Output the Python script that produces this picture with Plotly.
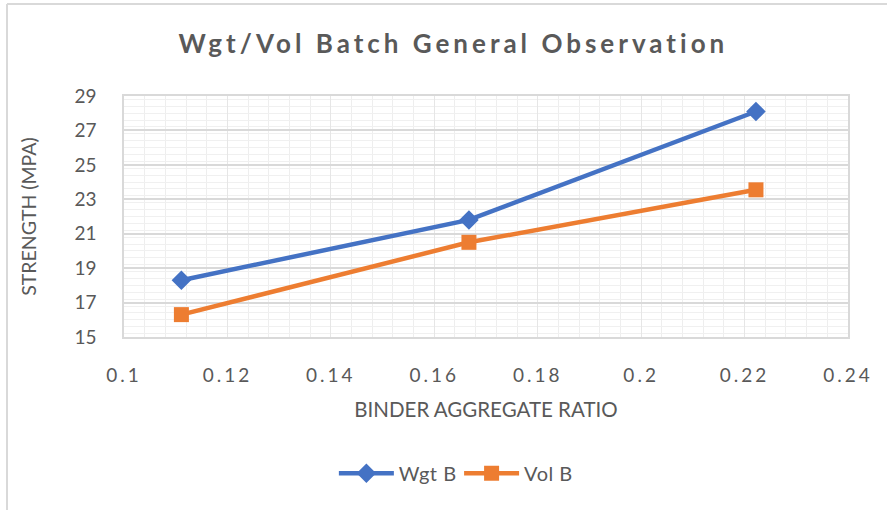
import plotly.graph_objects as go

ratio = [0.1111, 0.1667, 0.2222]
wgt_b = [18.3, 21.8, 28.1]
vol_b = [16.3, 20.5, 23.55]
series_names = ["Wgt B", "Vol B"]

fig = go.Figure()
fig.add_trace(go.Scatter(x=ratio, y=wgt_b, name=series_names[0], mode="lines+markers",
                         line=dict(color="#4472C4", width=4.5),
                         marker=dict(symbol="diamond", size=15, color="#4472C4")))
fig.add_trace(go.Scatter(x=ratio, y=vol_b, name=series_names[1], mode="lines+markers",
                         line=dict(color="#ED7D31", width=4.5),
                         marker=dict(symbol="square", size=15, color="#ED7D31")))

FONT = "Lato"
tick_font = dict(family=FONT, size=19, color="#595959")
fig.update_layout(
    width=887, height=510,
    margin=dict(l=124, r=39, t=96, b=173),
    paper_bgcolor="white", plot_bgcolor="white",
    title=dict(text="<b>Wgt/Vol Batch General Observation</b>", x=0.455, xanchor="center",
               xref="paper", y=0.914, yanchor="middle",
               font=dict(family=FONT, size=26, color="#595959")),
    showlegend=True,
    legend=dict(orientation="h", x=0.457, xanchor="center", y=-0.565, yanchor="middle",
                font=dict(family=FONT, size=20, color="#595959"),
                itemwidth=55),
    xaxis=dict(range=[0.1, 0.24], dtick=0.02, tick0=0.1,
               showgrid=True, gridcolor="#e6e6e6", gridwidth=1,
               minor=dict(dtick=0.004, showgrid=True, gridcolor="#eeeeee", gridwidth=1),
               showline=True, linecolor="#d9d9d9", linewidth=1.5, mirror=True,
               zeroline=False, ticks="", tickfont=tick_font, ticklabelstandoff=20,
               title=dict(text="BINDER AGGREGATE RATIO", standoff=18,
                          font=dict(family=FONT, size=20.5, color="#595959"))),
    yaxis=dict(range=[15, 29], dtick=2, tick0=15,
               showgrid=True, gridcolor="#d9d9d9", gridwidth=1.5,
               minor=dict(dtick=0.4, showgrid=True, gridcolor="#f0f0f0", gridwidth=1),
               showline=True, linecolor="#d9d9d9", linewidth=1.5, mirror=True,
               zeroline=False, ticks="", tickfont=tick_font, ticklabelstandoff=22,
               title=dict(text="STRENGTH (MPA)", standoff=33,
                          font=dict(family=FONT, size=19.5, color="#595959"))),
    shapes=[
        dict(type="line", xref="paper", yref="paper", x0=-117/724, x1=1+39/724,
             y0=1+92/241, y1=1+92/241, line=dict(color="#d9d9d9", width=2)),
        dict(type="line", xref="paper", yref="paper", x0=-117/724, x1=-117/724,
             y0=1+92/241, y1=-173/241, line=dict(color="#d9d9d9", width=2)),
    ],
)

post = """
document.body.style.margin='0';
document.querySelectorAll('.gtitle').forEach(function(e){e.style.letterSpacing='4px';});
document.querySelectorAll('.xtick text').forEach(function(e){e.style.letterSpacing='3px';});
document.querySelectorAll('.legendtext').forEach(function(e){e.style.letterSpacing='0.5px';});
"""
fig.write_html("out.html", post_script=post, config={"displayModeBar": False})
